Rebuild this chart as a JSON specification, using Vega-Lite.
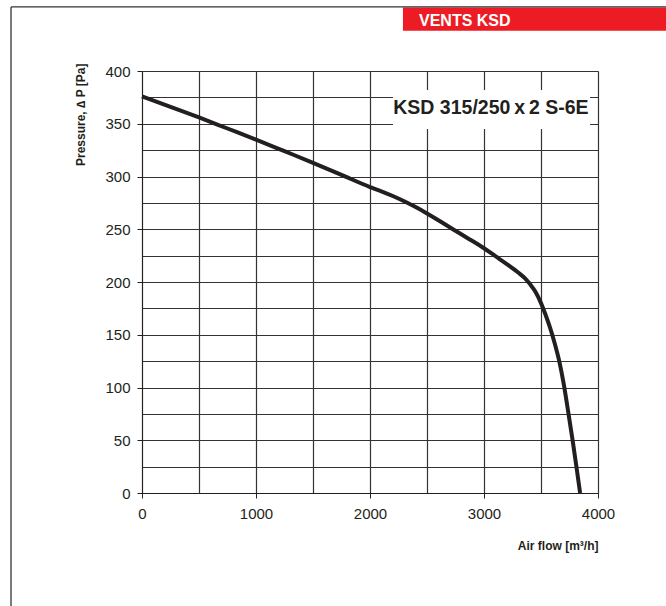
{
  "$schema": "https://vega.github.io/schema/vega-lite/v6.json",
  "width": 456,
  "height": 422,
  "autosize": {"type": "none"},
  "padding": {"left": 142, "top": 71, "right": 68, "bottom": 113},
  "background": "white",
  "config": {"view": {"stroke": null}, "font": "Liberation Sans"},
  "resolve": {"axis": {"y": "independent"}},
  "data": {
    "values": [
      {"flow": 0, "pressure": 376},
      {"flow": 250, "pressure": 366},
      {"flow": 500, "pressure": 356},
      {"flow": 750, "pressure": 345.5},
      {"flow": 1000, "pressure": 335},
      {"flow": 1250, "pressure": 324},
      {"flow": 1500, "pressure": 313},
      {"flow": 1750, "pressure": 301.5},
      {"flow": 2000, "pressure": 290},
      {"flow": 2100, "pressure": 286},
      {"flow": 2200, "pressure": 281.5},
      {"flow": 2300, "pressure": 276.5},
      {"flow": 2400, "pressure": 271},
      {"flow": 2500, "pressure": 265},
      {"flow": 2600, "pressure": 258.5},
      {"flow": 2720, "pressure": 250.5},
      {"flow": 2850, "pressure": 242},
      {"flow": 3000, "pressure": 232},
      {"flow": 3100, "pressure": 224.5},
      {"flow": 3200, "pressure": 217},
      {"flow": 3300, "pressure": 209},
      {"flow": 3360, "pressure": 203.5},
      {"flow": 3400, "pressure": 198.5},
      {"flow": 3450, "pressure": 191},
      {"flow": 3500, "pressure": 180},
      {"flow": 3540, "pressure": 169},
      {"flow": 3580, "pressure": 156.5},
      {"flow": 3620, "pressure": 142},
      {"flow": 3660, "pressure": 125},
      {"flow": 3700, "pressure": 103},
      {"flow": 3740, "pressure": 76},
      {"flow": 3780, "pressure": 48},
      {"flow": 3812, "pressure": 24},
      {"flow": 3843, "pressure": 0}
    ]
  },
  "layer": [
    {
      "data": {"values": [{}]},
      "mark": {"type": "rect", "opacity": 0},
      "encoding": {
        "x": {"datum": 0, "type": "quantitative"},
        "x2": {"datum": 0},
        "y": {
          "datum": 0,
          "type": "quantitative",
          "axis": {
            "orient": "right",
            "values": [25, 75, 125, 175, 225, 275, 325, 375],
            "grid": true,
            "gridColor": "#333333",
            "gridWidth": 1.2,
            "gridOpacity": 1,
            "labels": false,
            "ticks": false,
            "domain": false,
            "title": null
          }
        },
        "y2": {"datum": 0}
      }
    },
    {
      "mark": {"type": "line", "color": "#231f20", "strokeWidth": 4, "interpolate": "monotone"},
      "encoding": {
        "x": {
          "field": "flow",
          "type": "quantitative",
          "scale": {"domain": [0, 4000], "nice": false, "zero": false},
          "axis": {
            "values": [0, 500, 1000, 1500, 2000, 2500, 3000, 3500, 4000],
            "format": "d",
            "labelExpr": "datum.value % 1000 === 0 ? datum.label : ''",
            "title": "Air flow [m³/h]",
            "grid": true,
            "gridColor": "#333333",
            "gridWidth": 1.2,
            "gridOpacity": 1,
            "domainColor": "#231f20",
            "domainWidth": 1,
            "tickColor": "#231f20",
            "tickSize": 5,
            "tickOpacity": {"condition": {"test": "datum.value % 1000 !== 0", "value": 0}, "value": 1},
            "labelFont": "Liberation Sans",
            "labelFontSize": 15,
            "labelColor": "#231f20",
            "labelPadding": 8,
            "labelOverlap": false,
            "labelFlush": false,
            "titleFont": "Liberation Sans",
            "titleFontSize": 12,
            "titleFontWeight": "bold",
            "titleColor": "#231f20",
            "titleAnchor": "end",
            "titlePadding": 19
          }
        },
        "y": {
          "field": "pressure",
          "type": "quantitative",
          "scale": {"domain": [0, 400], "nice": false, "zero": false},
          "axis": {
            "values": [0, 50, 100, 150, 200, 250, 300, 350, 400],
            "format": "d",
            "title": "Pressure, ∆ P [Pa]",
            "grid": true,
            "gridColor": "#333333",
            "gridWidth": 1.2,
            "gridOpacity": 1,
            "domainColor": "#231f20",
            "domainWidth": 1,
            "tickColor": "#231f20",
            "tickSize": 5,
            "labelFont": "Liberation Sans",
            "labelFontSize": 15,
            "labelColor": "#231f20",
            "labelPadding": 7,
            "labelOverlap": false,
            "labelFlush": false,
            "titleFont": "Liberation Sans",
            "titleFontSize": 12,
            "titleFontWeight": "bold",
            "titleColor": "#231f20",
            "titleAnchor": "end",
            "titleY": -8,
            "titlePadding": 17
          }
        }
      }
    },
    {
      "data": {"values": [{}]},
      "mark": {"type": "rect", "color": "white"},
      "encoding": {
        "x": {"datum": 2202, "type": "quantitative"},
        "x2": {"datum": 3930},
        "y": {"datum": 382, "type": "quantitative", "axis": null},
        "y2": {"datum": 345}
      }
    },
    {
      "data": {"values": [{}]},
      "mark": {"type": "text", "text": "KSD 315/250\u2009x\u20092 S-6E", "font": "Liberation Sans", "fontWeight": "bold", "fontSize": 19.5, "color": "#231f20", "align": "center", "baseline": "alphabetic"},
      "encoding": {
        "x": {"datum": 3061, "type": "quantitative"},
        "y": {"datum": 359, "type": "quantitative", "axis": null}
      }
    },
    {
      "data": {"values": [{}]},
      "mark": {"type": "rect", "color": "#ed1c24"},
      "encoding": {
        "x": {"datum": 2289, "type": "quantitative"},
        "x2": {"datum": 4620},
        "y": {"datum": 460.2, "type": "quantitative", "axis": null},
        "y2": {"datum": 438.2}
      }
    },
    {
      "data": {"values": [{}]},
      "mark": {"type": "text", "text": "VENTS KSD", "font": "Liberation Sans", "fontWeight": "bold", "fontSize": 16, "color": "white", "align": "left", "baseline": "alphabetic"},
      "encoding": {
        "x": {"datum": 2430, "type": "quantitative"},
        "y": {"datum": 442.7, "type": "quantitative", "axis": null}
      }
    },
    {
      "data": {"values": [{}]},
      "mark": {"type": "rule", "color": "#333333", "strokeWidth": 1.3},
      "encoding": {
        "x": {"datum": -1149, "type": "quantitative"},
        "x2": {"datum": 4620},
        "y": {"datum": 460.7, "type": "quantitative", "axis": null}
      }
    },
    {
      "data": {"values": [{}]},
      "mark": {"type": "rule", "color": "#333333", "strokeWidth": 1.3},
      "encoding": {
        "x": {"datum": -1149, "type": "quantitative"},
        "y": {"datum": 460.7, "type": "quantitative", "axis": null},
        "y2": {"datum": -110}
      }
    }
  ]
}
